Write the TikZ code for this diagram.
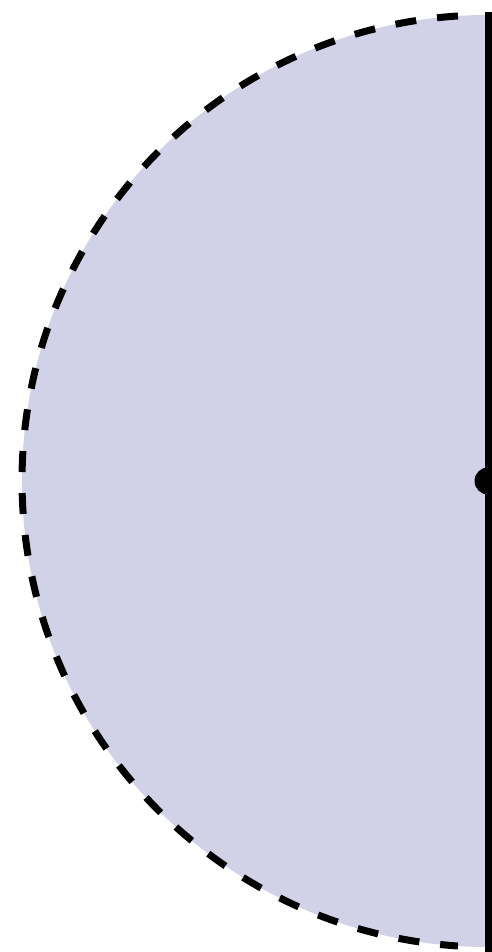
\documentclass[tikz,border=0pt]{standalone}
\definecolor{halffill}{RGB}{209,209,231}
\begin{document}
\begin{tikzpicture}[x=1pt,y=1pt,
  arcline/.style={line width=7pt,dash pattern=on 21pt off 21pt},
  axisline/.style={line width=7pt}]
\useasboundingbox (0,0) rectangle (492,952);
\clip (0,0) rectangle (492,952);
\coordinate (c) at (488,471);
\fill[halffill] (c) ++(90:466) arc[start angle=90,end angle=270,radius=466] -- cycle;
\draw[arcline] (c) ++(93.7:466) arc[start angle=93.7,end angle=266.3,radius=466];
\coordinate (top) at (488,939.5);
\coordinate (bot) at (488,-5);
\draw[axisline] (top) -- (bot);
\fill (c) circle[radius=13.5];
\end{tikzpicture}
\end{document}
